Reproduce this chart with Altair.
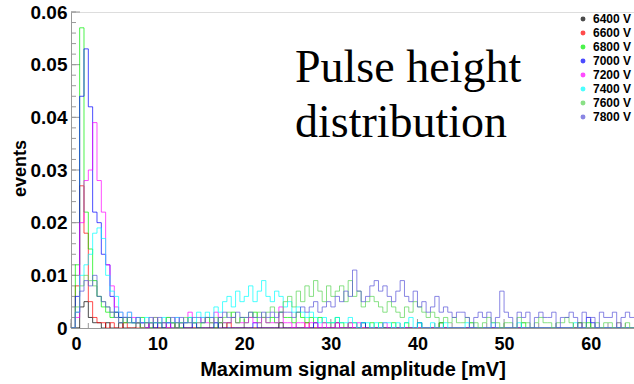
import altair as alt
import pandas as pd

# bin width 0.5 mV, 130 bins from 0 to 65 mV; values in units of 1e-3 events
BIN_W = 0.5
series_names = ["6400 V", "6600 V", "6800 V", "7000 V", "7200 V", "7400 V", "7600 V", "7800 V"]
series_colors = ["#000000", "#ff0000", "#00ee00", "#0000ff", "#ff00ff", "#00ffff", "#59d454", "#5954d8"]

v6400 = [0,0,4,5,2,1,1,0,1,0, 0,1,0,0,0,1,0,0,0,0, 0,0,0,1,0,0,0,0,0,0, 0,0,0,0,1,0,0,0,0,0,
         0,0,0,0,0,0,0,0,1,0, 0,0,0,0,0,0,0,0,0,0, 0,1,0,0,0,0,0,0,0,0, 0,0,0,0,0,0,0,0,0,0,
         0,0,0,0,0,1,0,0,0,0, 0,0,0,0,0,0,0,0,0,0, 0,0,0,0,0,0,0,0,0,0, 0,0,0,0,0,0,0,1,0,0,
         0,0,0,0,0,0,0,0,0,0]
v6600 = [0,8,27,18,5,2,1,1,0,1, 0,0,1,0,0,0,0,0,1,0, 0,0,0,0,0,1,0,0,0,0, 0,0,0,0,0,0,1,0,0,0,
         0,0,0,0,0,0,0,0,0,0, 0,0,0,0,1,0,0,0,0,0, 0,0,0,0,0,0,0,0,0,0, 0,0,0,0,0,0,0,0,0,0,
         0,0,0,0,0,0,0,0,0,0, 0,0,0,0,0,0,0,0,0,0, 0,0,0,0,0,0,0,0,0,0, 0,0,0,0,0,0,0,0,0,0,
         0,0,0,0,0,0,0,0,0,0]
v6800 = [0,12,57,22,15,9,6,4,3,2, 3,2,1,2,1,1,2,1,0,1, 1,0,2,1,1,0,1,2,1,0, 1,2,1,0,2,1,1,3,1,2,
         1,2,3,1,2,1,2,1,3,2, 2,1,3,2,1,2,1,2,1,1, 1,2,1,0,1,1,0,1,0,1, 0,1,0,0,1,0,0,1,0,0,
         1,0,0,0,0,1,0,0,0,0, 0,0,1,0,0,0,0,0,0,0, 0,0,0,0,1,0,0,0,0,0, 0,0,0,0,0,0,0,0,0,1,
         0,0,0,0,0,0,0,0,0,0]
v7000 = [0,6,44,53,42,22,20,14,12,6, 3,2,2,1,1,1,1,0,1,0, 1,0,1,0,0,1,0,0,1,0, 0,0,0,1,0,0,0,0,0,0,
         0,0,1,0,0,0,0,0,0,0, 0,0,0,0,0,0,1,0,0,0, 0,0,0,0,0,0,0,1,0,0, 0,0,0,0,0,0,0,0,0,0,
         1,0,0,0,0,0,0,0,0,0, 0,0,0,0,0,0,0,0,0,0, 0,0,0,0,0,0,0,0,0,0, 0,0,0,0,0,0,0,0,0,2,
         1,0,0,0,0,0,0,0,0,0]
v7200 = [0,2,20,28,30,39,28,22,12,8, 4,3,2,3,2,1,1,0,1,2, 1,1,0,1,2,1,1,3,1,1, 2,1,1,3,2,1,1,2,1,1,
         1,2,1,1,2,1,1,1,4,1, 1,0,1,1,0,1,1,0,1,0, 0,1,0,0,1,0,1,0,0,0, 0,0,1,0,0,0,0,0,0,0,
         0,0,0,0,0,0,0,0,0,0, 0,0,0,0,0,0,0,0,0,0, 0,0,0,0,0,0,0,0,0,0, 0,0,0,0,0,0,0,0,0,0,
         0,0,0,0,0,0,1,0,0,0]
v7400 = [0,3,10,12,14,18,19,17,10,7, 6,3,2,3,1,2,1,2,1,1, 1,2,1,1,2,1,1,2,1,3, 2,3,2,4,3,5,6,4,7,5,
         6,8,5,7,9,6,5,7,6,4, 5,3,4,3,2,3,2,1,2,1, 1,2,1,1,2,1,0,1,1,0, 1,0,1,1,0,1,0,1,2,0,
         1,0,0,1,0,0,1,0,0,0, 0,1,0,0,0,0,0,1,0,0, 0,0,0,1,0,0,0,0,0,0, 0,0,0,0,0,0,1,0,0,0,
         0,0,0,0,0,0,0,0,0,0]
v7600 = [0,4,8,10,9,8,6,5,4,3, 2,1,2,1,1,1,0,1,1,2, 1,1,2,1,0,1,2,1,1,1, 1,2,1,2,1,2,3,2,1,2,
         2,3,2,3,2,3,4,3,3,5, 6,4,7,5,8,6,9,7,5,8, 6,7,8,5,9,6,7,4,5,6, 5,4,3,5,4,3,2,4,3,5,
         4,3,2,3,2,1,2,1,2,1, 1,2,1,1,0,1,2,1,1,0, 1,1,0,2,1,1,0,1,2,1, 1,0,1,1,2,1,0,1,1,0,
         0,1,0,1,1,0,1,0,1,0]
v7800 = [0,3,7,9,8,10,6,5,4,3, 2,1,2,2,1,2,1,1,2,1, 2,1,1,2,1,2,1,1,2,2, 1,2,2,1,2,3,2,2,3,2,
         2,3,2,2,3,2,3,2,3,3, 3,2,3,4,3,4,5,3,4,5, 4,6,5,7,6,11,7,5,6,8, 9,7,8,6,5,7,9,6,5,7,
         4,5,3,4,6,3,4,3,2,3, 3,2,0,2,3,2,3,0,2,7, 3,2,0,3,2,3,0,2,3,2, 2,3,0,2,2,3,2,0,3,2,
         2,0,3,2,2,3,0,2,3,2]

all_values = [v6400, v6600, v6800, v7000, v7200, v7400, v7600, v7800]

rows = []
for name, vals in zip(series_names, all_values):
    for i in range(len(vals) + 1):
        v = vals[min(i, len(vals) - 1)]
        rows.append({"series": name, "amp": i * BIN_W, "events": v / 1000.0})
df = pd.DataFrame(rows)

x_ticks_major = [0, 10, 20, 30, 40, 50, 60]
x_ticks_minor = [i * 2 for i in range(33)]
y_ticks_major = [0, 0.01, 0.02, 0.03, 0.04, 0.05, 0.06]
y_ticks_minor = [i * 0.002 for i in range(31)]

W, H = 563, 316
FONT = "Liberation Sans"

xscale = alt.Scale(domain=[0, 65], nice=False, zero=False)
yscale = alt.Scale(domain=[0, 0.06], nice=False)

lines = alt.Chart(df).mark_line(interpolate="step-after", strokeWidth=1, opacity=0.7, clip=True).encode(
    x=alt.X("amp:Q", scale=xscale,
            axis=alt.Axis(title="Maximum signal amplitude [mV]", values=x_ticks_major, ticks=False,
                          labelFont=FONT, labelFontWeight="bold", labelFontSize=18, labelPadding=7,
                          titleFont=FONT, titleFontWeight="bold", titleFontSize=20, titlePadding=6,
                          domainColor="#999999", labelColor="#000", titleColor="#000", grid=False)),
    y=alt.Y("events:Q", scale=yscale,
            axis=alt.Axis(title="events", values=y_ticks_major, ticks=False,
                          labelExpr="datum.value == 0 ? '0' : format(datum.value, '.2f')",
                          labelFont=FONT, labelFontWeight="bold", labelFontSize=19, labelPadding=4,
                          titleFont=FONT, titleFontWeight="bold", titleFontSize=18,
                          titleX=-51, titleY=156, titleAngle=-90, titleBaseline="middle", titleAlign="center",
                          domainColor="#999999", labelColor="#000", titleColor="#000", grid=False)),
    color=alt.Color("series:N", scale=alt.Scale(domain=series_names, range=series_colors),
                    legend=alt.Legend(orient="none", legendX=506, legendY=1, title=None,
                                      symbolType="circle", symbolSize=6, symbolStrokeWidth=2.5,
                                      labelFont=FONT, labelFontWeight="bold", labelFontSize=12,
                                      labelColor="#000", rowPadding=0, labelOffset=4)),
)

ytm = pd.DataFrame({"v": y_ticks_minor})
ytM = pd.DataFrame({"v": y_ticks_major})
xtm = pd.DataFrame({"v": x_ticks_minor})
xtM = pd.DataFrame({"v": x_ticks_major})

y_minor = alt.Chart(ytm).mark_rule(color="#999999", strokeWidth=1).encode(
    y=alt.Y("v:Q", scale=yscale), x=alt.value(0), x2=alt.value(5))
y_major = alt.Chart(ytM).mark_rule(color="#999999", strokeWidth=1).encode(
    y=alt.Y("v:Q", scale=yscale), x=alt.value(0), x2=alt.value(9))
x_minor = alt.Chart(xtm).mark_rule(color="#999999", strokeWidth=1).encode(
    x=alt.X("v:Q", scale=xscale), y=alt.value(H), y2=alt.value(H - 5))
x_major = alt.Chart(xtM).mark_rule(color="#999999", strokeWidth=1).encode(
    x=alt.X("v:Q", scale=xscale), y=alt.value(H), y2=alt.value(H - 9))

label_df = pd.DataFrame({"t": ["Pulse height\ndistribution"]})
label = alt.Chart(label_df).mark_text(font="Liberation Serif", fontSize=46, align="left", baseline="alphabetic",
                                      lineBreak="\n", lineHeight=55, color="#000").encode(
    text="t:N", x=alt.value(224), y=alt.value(70))

chart = alt.layer(y_minor, y_major, x_minor, x_major, lines, label).properties(
    width=W, height=H,
    autosize=alt.AutoSizeParams(type="none"),
    padding={"left": 71, "top": 12, "right": 0, "bottom": 56},
).configure_view(stroke="#aaaaaa", strokeWidth=1.5).configure(background="white")

chart.save("out.html", embed_options={"renderer": "svg", "actions": False})
